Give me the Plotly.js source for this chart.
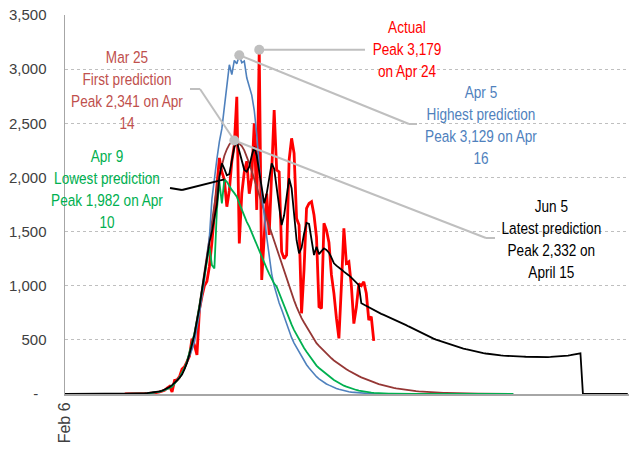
<!DOCTYPE html>
<html>
<head>
<meta charset="utf-8">
<script src="https://cdn.plot.ly/plotly-3.0.1.min.js"></script>
<style>html,body{margin:0;padding:0;background:#fff;}#chart{width:629px;height:449px;}</style>
</head>
<body>
<div id="chart"></div>
<script>
// ---- data (daily deaths, day 0 = Feb 6, 2020) ----
const startDate = '2020-02-06';
const xRangeEnd = '2020-09-19 12:00';

const blackStart = 0;   // Jun 5 prediction
const blackVals = [
0,0,0,0,0,0,0,0,0,0,0,0,0,0,0,0,0,0,0,0,0,0,0,0,0,
1,1,2,2,3,4,5,6,8,10,
12,15,19,24,30,
40,52,65,82,100,125,150,180,230,290,
370,450,550,680,800,960,1120,1270,1400,1500,
1620,1750,2000,2130,2080,2020,2030,2150,2280,2330,
2250,2150,2070,2053,2100,2200,2284,2200,2050,1880,
1761,1850,2000,2130,2080,1900,1700,1560,1650,1850,
1992,1900,1650,1420,1299,1350,1480,1580,1570,1420,
1283,1360,1292,1320,1345,1330,1305,1260,1207,1185,
1170,1150,1130,1115,1095,1075,1055,1030,1006,838,
825,812,798,785,772,760,750,740,730,720,
712,702,692,683,672,660,648,636,624,612,
600,588,576,564,552,540,529,520,511,502,
494,486,478,470,462,455,448,441,434,427,
420,414,408,402,397,392,387,382,378,374,
370,367,364,361,358,356,354,352,351,350,
349,348,347,346,345,344,343,342,341,340,
340,339,339,340,341,342,343,344,346,348,
350,352,355,358,362,366,371,376,
0,0,0,0,0,0,0,0,0,0,0,0,0,0,0,0,0,0,0
];

const redStart = 24;    // Actual
const redVals = [
1,1,1,2,3,2,3,4,3,5,
7,9,10,14,20,25,35,55,70,20,
125,130,160,230,250,300,350,510,450,360,
780,900,1000,1040,1180,1400,1670,1950,2180,2050,
1980,1730,1880,2150,2300,2745,1390,1850,2050,2150,
1850,2000,2500,1700,3179,1053,1500,1850,1468,2000,
2622,2068,2050,1314,1250,1283,2160,2361,2222,1620,
1560,745,1150,1715,1760,1776,1653,1450,806,791,
1576,1514,1400,1100,930,700,514,1000,1530,1207,
1222,1000,650,800,1020,1000,1037,930,683,714,490
];

const blueStart = 24;   // Apr 5 prediction
const blueVals = [
1,1,1,2,2,3,3,4,5,6,
8,10,13,17,22,28,36,46,60,78,
100,125,155,190,235,290,350,410,480,600,
750,900,1050,1250,1450,1800,2000,2170,2330,2450,
2650,2850,3040,2950,3080,3050,3129,3060,3075,2920,
2830,2760,2620,2400,2100,1850,1650,1450,1250,1110,
1000,910,840,780,710,640,580,520,470,430,
385,345,305,270,240,210,185,160,140,122,
106,93,82,70,60,51,43,36,30,25,
21,17,14,12,10,8,7,6,5,4,
4,3,3,2,2,2,1,1,1,1,
1,1,1,1,0,0,0,0,0,0,
0,0,0,0,0,0,0,0,0,0,0,0,0,0,0,0,0,0,0,0,0,0,0,0,0,0,0,0,0,0,0,0,0,0,0,0,0
];

const greenStart = 24;  // Apr 9 prediction
const greenVals = [
1,1,1,2,2,3,3,4,5,6,
8,10,13,17,22,28,36,45,55,68,
100,125,150,190,240,300,380,468,560,680,
820,960,1120,1250,1360,1190,1160,1700,1960,1761,
1982,1960,1915,1885,1855,1822,1760,1700,1637,1590,
1545,1490,1430,1370,1310,1260,1210,1160,1110,1060,
1020,991,930,870,810,750,690,640,590,545,
500,460,425,390,355,320,290,262,240,220,
200,180,165,148,130,115,100,88,77,68,
59,51,44,37,31,26,22,18,15,13,
11,9,8,7,6,5,4,4,3,3,
2,2,2,2,1,1,1,1,1,1,
0,0,0,0,0,0,0,0,0,0,0,0,0,0,0,0,0,0,0,0,0,0,0,0,0,0,0,0,0,0,0,0,0,0,0,0,0
];

const brownStart = 24;  // Mar 25 prediction
const brownVals = [
1,1,1,2,2,3,3,4,5,6,
8,10,13,17,22,28,36,45,55,68,
100,125,150,190,240,300,370,460,560,680,
820,970,1130,1290,1450,1600,1750,1900,2020,2120,
2200,2260,2305,2330,2341,2335,2315,2290,2250,2195,
2130,2060,1985,1905,1820,1760,1690,1620,1550,1480,
1410,1340,1270,1200,1130,1060,995,930,865,805,
745,700,660,620,580,540,505,470,445,420,
395,372,350,330,310,292,275,258,243,228,
214,200,188,176,165,154,144,134,125,116,
108,100,92,85,79,73,67,62,57,52,
48,44,41,38,35,32,29,27,25,23,
21,19,18,16,15,14,13,12,11,10,
9,8,8,7,7,6,6,5,5,4,
4,4,3,3,3,3,2,2,2,2,
2,1,1,1,1,1,1
];

const yTickVals = [0,500,1000,1500,2000,2500,3000,3500];
const yTickText = ['-\u00a0\u00a0','500','1,000','1,500','2,000','2,500','3,000','3,500'];
const xTickText = ['Feb 6'];

const labelActual = 'Actual<br>Peak 3,179<br>on Apr 24';
const labelMar25 = 'Mar 25<br>First prediction<br>Peak 2,341 on Apr<br>14';
const labelApr5 = 'Apr 5<br>Highest prediction<br>Peak 3,129 on Apr<br>16';
const labelApr9 = 'Apr 9<br>Lowest prediction<br>Peak 1,982 on Apr<br>10';
const labelJun5 = 'Jun 5<br>Latest prediction<br>Peak 2,332 on<br>April 15';

// ---- helpers ----
const DAY = 86400000;
const t0 = Date.parse(startDate + 'T00:00:00Z');
function dateOf(i){ return new Date(t0 + i*DAY).toISOString().slice(0,10); }
function xs(start, vals){ return vals.map((_, i) => dateOf(start + i)); }

// plot geometry (pixels) for placing labels/leaders
const L = 65, R = 629, T = 15, B = 394;
const dayMax = (Date.parse(xRangeEnd.replace(' ','T') + 'Z') - t0) / DAY;
const yMax = 3500;
const px2x = p => (p - L) / (R - L);
const py2y = p => (B - p) / (B - T);
function peak(start, vals){
  let k = 0; vals.forEach((v,i)=>{ if (v > vals[k]) k = i; });
  return {d: start + k, v: vals[k]};
}
const dPx = d => L + d / dayMax * (R - L);
const vPy = v => B - v / yMax * (B - T);

const pkRed = peak(redStart, redVals);
const pkBlue = peak(blueStart, blueVals);
const pkBrown = peak(brownStart, brownVals);
const pkGreen = peak(greenStart, greenVals);

const traces = [
  {x: xs(redStart, redVals), y: redVals, mode:'lines', line:{color:'#FF0000', width:2.8}, hoverinfo:'skip'},
  {x: xs(brownStart, brownVals), y: brownVals, mode:'lines', line:{color:'#953735', width:1.8}, hoverinfo:'skip'},
  {x: xs(blueStart, blueVals), y: blueVals, mode:'lines', line:{color:'#4F81BD', width:1.6}, hoverinfo:'skip'},
  {x: xs(greenStart, greenVals), y: greenVals, mode:'lines', line:{color:'#00B050', width:1.8}, hoverinfo:'skip'},
  {x: xs(blackStart, blackVals), y: blackVals, mode:'lines', line:{color:'#000000', width:1.8}, hoverinfo:'skip'},
  {x: [dateOf(pkRed.d), dateOf(pkBlue.d), dateOf(pkBrown.d)],
   y: [pkRed.v, pkBlue.v, pkBrown.v], mode:'markers',
   marker:{color:'#BFBFBF', size:10}, hoverinfo:'skip'}
];

const gray = '#BFBFBF';
function seg(x0,y0,x1,y1,color,w){
  return {type:'line', xref:'paper', yref:'paper',
    x0:px2x(x0), y0:py2y(y0), x1:px2x(x1), y1:py2y(y1),
    line:{color:color, width:w||2}};
}
const rP = [dPx(pkRed.d), vPy(pkRed.v)];
const bP = [dPx(pkBlue.d), vPy(pkBlue.v)];
const mP = [dPx(pkBrown.d), vPy(pkBrown.v)];
const gP = [dPx(pkGreen.d), vPy(pkGreen.v)];

const shapes = [
  seg(rP[0], rP[1], 365, rP[1], gray),
  seg(bP[0], bP[1], 409, 124, gray), seg(409,124,417,124, gray),
  seg(190, 89, 200, 89, gray), seg(200, 89, mP[0], mP[1], gray),
  seg(mP[0], mP[1], 486, 238, gray), seg(486,238,495,238, gray),
  seg(170, 188, 182, 190, '#000000'), seg(182, 190, gP[0], gP[1], '#000000')
];

const annFont = 'Liberation Sans, Arial, sans-serif';
function ann(text, cx, cy, color){
  return {text:text, xref:'paper', yref:'paper', x:px2x(cx), y:py2y(cy),
    xanchor:'center', yanchor:'middle', showarrow:false, align:'center',
    font:{family:annFont, size:17, color:color}};
}
const annotations = [
  ann(labelMar25, 127, 90, '#C0504D'),
  ann(labelApr9, 107, 189, '#00B050'),
  ann(labelActual, 407, 49.5, '#FF0000'),
  ann(labelApr5, 481, 125.5, '#4F81BD'),
  ann(labelJun5, 551, 239, '#000000')
];

const layout = {
  width:629, height:449,
  margin:{l:L, r:629-R, t:T, b:449-B, pad:0},
  paper_bgcolor:'#ffffff', plot_bgcolor:'#ffffff',
  showlegend:false,
  font:{family:'Liberation Sans, Arial, sans-serif', size:15, color:'#404040'},
  xaxis:{type:'date', range:[startDate, xRangeEnd], tickvals:[dateOf(0)], ticktext:xTickText,
    tickangle:-90, showgrid:false, zeroline:false, showline:true, linecolor:'#A6A6A6', linewidth:2,
    ticks:'', tickfont:{size:16, color:'#404040'}, fixedrange:true},
  yaxis:{range:[0, yMax], tickvals:yTickVals, ticktext:yTickText, showgrid:true,
    gridcolor:'#BFBFBF', griddash:'dot', gridwidth:1, zeroline:false, showline:true,
    linecolor:'#A6A6A6', linewidth:1.5, ticks:'', ticklabelstandoff:14,
    tickfont:{size:15, color:'#404040'}, fixedrange:true},
  shapes:shapes,
  annotations:annotations
};

// condensed look for annotation text (the reference uses a narrow face)
function condense(){
  document.querySelectorAll('#chart .annotation-text').forEach(t => {
    const bb = t.getBBox();
    const cx = bb.x + bb.width / 2;
    t.setAttribute('transform', 'translate(' + cx + ',0) scale(0.8,1) translate(' + (-cx) + ',0)');
  });
}
Plotly.newPlot('chart', traces, layout, {displayModeBar:false, staticPlot:true}).then(condense);
</script>
</body>
</html>
